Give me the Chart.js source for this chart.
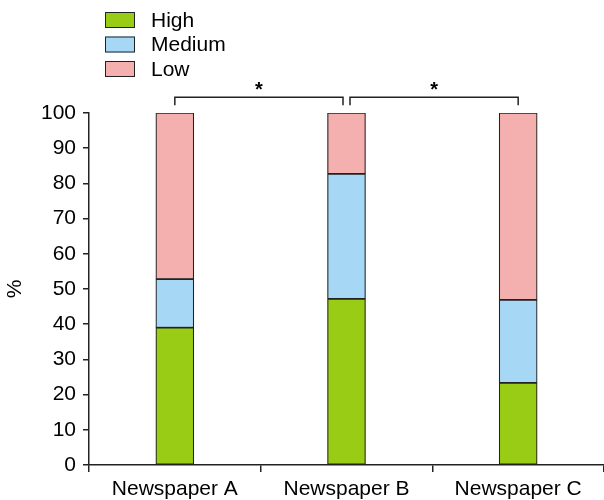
<!DOCTYPE html>
<html>
<head>
<meta charset="utf-8">
<script src="https://cdn.jsdelivr.net/npm/chart.js@4"></script>
<style>
  html, body { margin: 0; padding: 0; background: #fff; }
  #wrap { width: 604px; height: 500px; }
</style>
</head>
<body>
<div id="wrap"><canvas id="chart"></canvas></div>
<script>
// values (percent)
var categories = ['Newspaper A', 'Newspaper B', 'Newspaper C'];
var high = [39, 47.2, 23.3];
var medium = [13.8, 35.5, 23.6];
var low = [47.2, 17.3, 53.1];
var seriesNames = ['High', 'Medium', 'Low'];
var seriesColors = ['rgb(153,204,20)', 'rgb(166,216,245)', 'rgb(244,176,174)'];
// significance brackets: pairs of category indexes
var brackets = [[0, 1], [1, 2]];
var bracketMarks = ['*', '*'];

var FONT = 'Liberation Sans, Arial, Helvetica, sans-serif';
var INK = '#222';

// legend drawn as a vertical list, top left
var legendPlugin = {
    id: 'stackLegend',
    afterDraw: function(chart) {
        var ctx = chart.ctx;
        ctx.save();
        chart.data.datasets.forEach(function(ds, i) {
            var y = 12 + i * 24.5;
            ctx.fillStyle = ds.backgroundColor;
            ctx.fillRect(105, y, 30, 16);
            ctx.strokeStyle = INK;
            ctx.lineWidth = 1;
            ctx.strokeRect(105.5, y + 0.5, 29, 15);
            ctx.fillStyle = '#000';
            ctx.font = '21px ' + FONT;
            ctx.textBaseline = 'middle';
            ctx.textAlign = 'left';
            ctx.fillText(ds.label, 151, y + 9);
        });
        ctx.restore();
    }
};

// brackets with asterisks above the bars
var bracketPlugin = {
    id: 'brackets',
    afterDraw: function(chart) {
        var ctx = chart.ctx;
        var xs = chart.scales.x, ys = chart.scales.y;
        var yLine = ys.getPixelForValue(104.5);
        var yFoot = ys.getPixelForValue(102.2);
        ctx.save();
        ctx.strokeStyle = INK;
        ctx.lineWidth = 1.5;
        brackets.forEach(function(pair, i) {
            var x1 = xs.getPixelForValue(pair[0]) + (pair[0] > 0 ? 3.5 : 0);
            var x2 = xs.getPixelForValue(pair[1]) - (pair[1] < categories.length - 1 ? 3.5 : 0);
            ctx.beginPath();
            ctx.moveTo(x1, yFoot);
            ctx.lineTo(x1, yLine);
            ctx.lineTo(x2, yLine);
            ctx.lineTo(x2, yFoot);
            ctx.stroke();
            ctx.fillStyle = '#000';
            ctx.font = 'bold 20px ' + FONT;
            ctx.textAlign = 'center';
            ctx.textBaseline = 'middle';
            ctx.fillText(bracketMarks[i], (x1 + x2) / 2, yLine - 7);
        });
        ctx.restore();
    }
};

var ctx = document.getElementById('chart').getContext('2d');
var chart = new Chart(ctx, {
    type: 'bar',
    data: {
        labels: categories,
        datasets: [high, medium, low].map(function(vals, i) {
            return {
                label: seriesNames[i],
                data: vals,
                backgroundColor: seriesColors[i],
                borderColor: INK,
                borderWidth: 1.2,
                borderSkipped: false,
                barThickness: 38
            };
        })
    },
    options: {
        responsive: true,
        maintainAspectRatio: false,
        animation: false,
        layout: { padding: { top: 113, right: 0, bottom: 0, left: 0 } },
        plugins: {
            legend: { display: false },
            tooltip: { enabled: false }
        },
        scales: {
            x: {
                stacked: true,
                grid: { offset: true, drawOnChartArea: false, drawTicks: true, tickLength: 7, color: INK, lineWidth: 1.5 },
                border: { color: INK, width: 1.5 },
                ticks: { color: '#000', font: { size: 21, family: FONT }, padding: 5, maxRotation: 0 },
                afterFit: function(s) { s.height = 35; }
            },
            y: {
                stacked: true,
                min: 0,
                max: 100,
                grid: { drawOnChartArea: false, drawTicks: true, tickLength: 6, color: INK, lineWidth: 1.5 },
                border: { color: INK, width: 1.5 },
                ticks: { stepSize: 10, color: '#000', font: { size: 21, family: FONT }, padding: 7 },
                title: { display: true, text: '%', color: '#000', font: { size: 21, family: FONT }, padding: { top: 3, bottom: 0 } },
                afterFit: function(s) { s.width = 89; }
            }
        }
    },
    plugins: [legendPlugin, bracketPlugin]
});
</script>
</body>
</html>
